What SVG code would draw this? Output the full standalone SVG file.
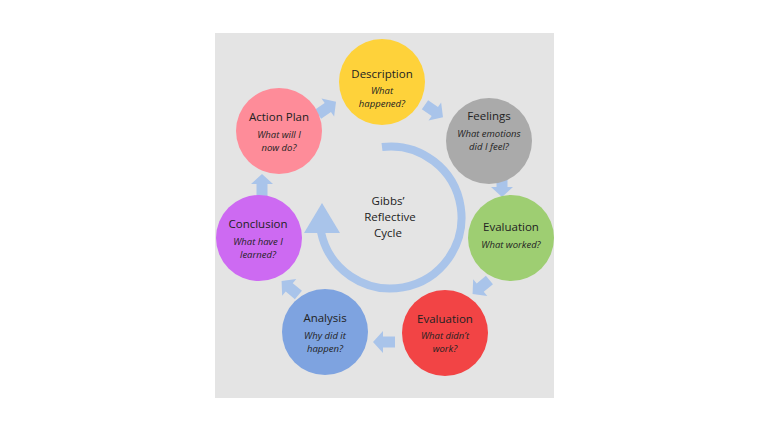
<svg xmlns="http://www.w3.org/2000/svg" width="768" height="432" viewBox="0 0 768 432">
<style>
.t{font-family:"Open Sans","Liberation Sans",sans-serif;font-size:11.5px;fill:#222;text-anchor:middle}
.s{font-family:"Open Sans","Liberation Sans",sans-serif;font-size:9.5px;font-style:italic;fill:#222;text-anchor:middle}
.a{fill:#a9c4ea}
</style>
<defs>
<path id="ba" d="M-11,-5.5 H1 V-11 L11,0 L1,11 V5.5 H-11 Z"/>
</defs>
<rect width="768" height="432" fill="#fff"/>
<rect x="215" y="33" width="339" height="365" fill="#e4e4e4"/>
<g id="connectors" class="a">
<path d="M382,147 A71,71 0 1 1 321,232" fill="none" stroke="#a9c4ea" stroke-width="8"/>
<polygon points="304,233 340,233 322,203"/>
<use href="#ba" transform="translate(327,108) rotate(-35)"/>
<use href="#ba" transform="translate(434,111) rotate(35)"/>
<use href="#ba" transform="translate(502,186) rotate(90)"/>
<use href="#ba" transform="translate(481,287) rotate(140)"/>
<use href="#ba" transform="translate(384,342) rotate(180)"/>
<use href="#ba" transform="translate(290,288) rotate(-140)"/>
<use href="#ba" transform="translate(262,185) rotate(-90)"/>
</g>
<g id="center"><text class="t" x="388" y="205">Gibbs’</text><text class="t" x="390" y="221">Reflective</text><text class="t" x="388" y="237">Cycle</text></g>
<g id="description"><circle cx="382" cy="82" r="43" fill="#fed23a"/><text class="t" x="382" y="78">Description</text><text class="s" x="382" y="94">What</text><text class="s" x="382" y="107">happened?</text></g>
<g id="feelings"><circle cx="489" cy="141" r="43" fill="#aaaaaa"/><text class="t" x="489" y="120">Feelings</text><text class="s" x="489" y="137">What emotions</text><text class="s" x="489" y="150">did I feel?</text></g>
<g id="evaluation1"><circle cx="511" cy="238" r="43" fill="#9ece72"/><text class="t" x="511" y="231">Evaluation</text><text class="s" x="511" y="248">What worked?</text></g>
<g id="evaluation2"><circle cx="445" cy="333" r="43" fill="#f24445"/><text class="t" x="445" y="323">Evaluation</text><text class="s" x="445" y="339">What didn’t</text><text class="s" x="445" y="352">work?</text></g>
<g id="analysis"><circle cx="325" cy="332" r="43" fill="#7ea3e0"/><text class="t" x="325" y="322">Analysis</text><text class="s" x="325" y="339">Why did it</text><text class="s" x="325" y="352">happen?</text></g>
<g id="conclusion"><circle cx="259" cy="238" r="43" fill="#cd6af2"/><text class="t" x="258" y="228">Conclusion</text><text class="s" x="258" y="245">What have I</text><text class="s" x="258" y="258">learned?</text></g>
<g id="actionplan"><circle cx="279" cy="131" r="43" fill="#fe8c99"/><text class="t" x="279" y="121">Action Plan</text><text class="s" x="279" y="138">What will I</text><text class="s" x="279" y="151">now do?</text></g>
</svg>
